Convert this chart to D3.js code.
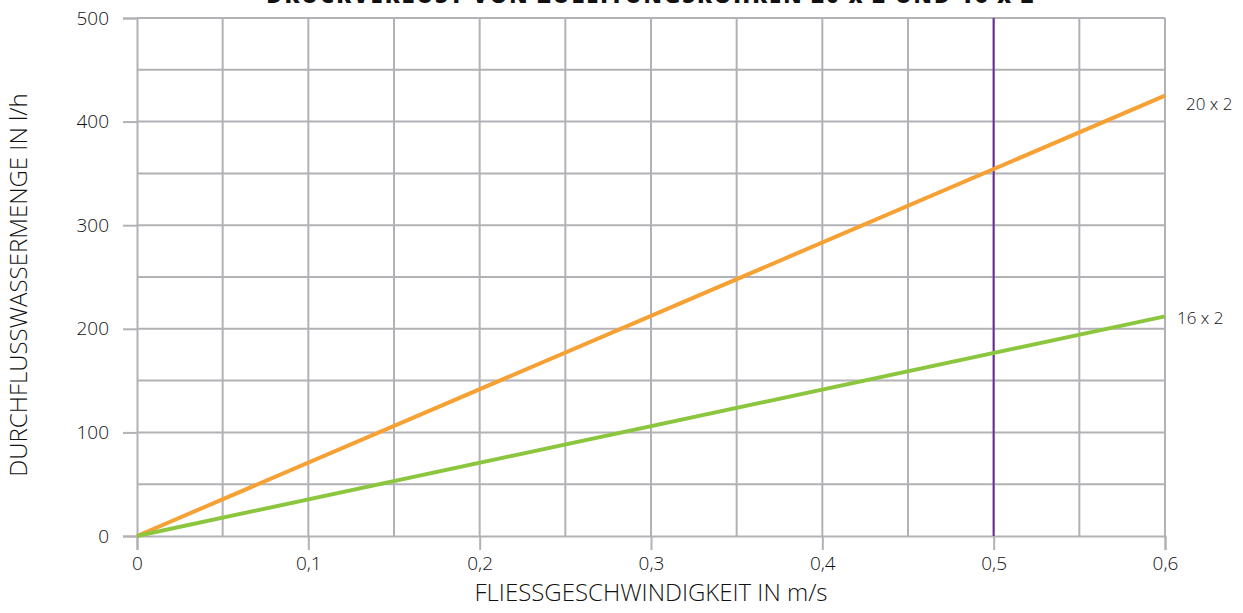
<!DOCTYPE html>
<html><head><meta charset="utf-8">
<script src="https://cdn.jsdelivr.net/npm/d3@7"></script>
<style>body{margin:0;background:#fff;} svg{display:block;} text{font-family:"Open Sans",sans-serif;fill:#111;}</style>
</head><body>
<svg id="c" width="1243" height="613"></svg>
<script>
const title = "DRUCKVERLUST VON ZULEITUNGSROHREN 20 x 2 UND 16 x 2";
const xTicks = [0, 0.1, 0.2, 0.3, 0.4, 0.5, 0.6];
const yTicks = [0, 100, 200, 300, 400, 500];
const xGrid = [0.05, 0.1, 0.15, 0.2, 0.25, 0.3, 0.35, 0.4, 0.45, 0.5, 0.55, 0.6];
const yGrid = [50, 100, 150, 200, 250, 300, 350, 400, 450, 500];
const speed = [0, 0.6];
const flow20 = [0, 425];
const flow16 = [0, 212];
const seriesNames = ["20 x 2", "16 x 2"];
const markX = 0.5;

const svg = d3.select("#c");
const x = d3.scaleLinear().domain([0, 0.6]).range([137, 1165]);
const y = d3.scaleLinear().domain([0, 500]).range([536, 18]);
const grid = "#b2b2b6";
const ff = '"Open Sans",sans-serif';

svg.append("text").attr("x", 651).attr("y", 3).attr("text-anchor", "middle")
  .attr("font-size", 22).attr("font-weight", 800).style("letter-spacing", "2px").text(title);

const g = svg.append("g");
g.selectAll(".gx").data(xGrid).join("line")
  .attr("x1", d => x(d)).attr("x2", d => x(d)).attr("y1", y(500)).attr("y2", y(0))
  .attr("stroke", grid).attr("stroke-width", 2);
g.selectAll(".gy").data(yGrid).join("line")
  .attr("x1", x(0)).attr("x2", x(0.6)).attr("y1", d => y(d)).attr("y2", d => y(d))
  .attr("stroke", grid).attr("stroke-width", 2);

const xAxis = d3.axisBottom(x).tickValues(xTicks).tickSize(14).tickPadding(7)
  .tickFormat(d => d === 0 ? "0" : d3.format(".1f")(d).replace(".", ","));
const xa = svg.append("g").attr("transform", `translate(0,${y(0)})`).call(xAxis);
xa.select(".domain").attr("stroke", grid).attr("stroke-width", 2);
xa.selectAll(".tick line").attr("stroke", grid).attr("stroke-width", 2);
xa.selectAll(".tick text").attr("font-size", 19).attr("font-family", ff).attr("fill", "#111").attr("font-weight", 300);

const yAxis = d3.axisLeft(y).tickValues(yTicks).tickSize(14).tickPadding(14);
const ya = svg.append("g").attr("transform", `translate(${x(0)},0)`).call(yAxis);
ya.select(".domain").attr("stroke", grid).attr("stroke-width", 2);
ya.selectAll(".tick line").attr("stroke", grid).attr("stroke-width", 2);
ya.selectAll(".tick text").attr("font-size", 19).attr("font-family", ff).attr("fill", "#111").attr("font-weight", 300);

svg.append("line").attr("x1", x(markX)).attr("x2", x(markX)).attr("y1", y(500)).attr("y2", y(0))
  .attr("stroke", "#6a2d9c").attr("stroke-width", 2);

const line = d3.line().x(d => x(d[0])).y(d => y(d[1]));
const s20 = speed.map((v, i) => [v, flow20[i]]);
const s16 = speed.map((v, i) => [v, flow16[i]]);
svg.append("path").datum(s20).attr("d", line).attr("fill", "none").attr("stroke", "#f7a033").attr("stroke-width", 4);
svg.append("path").datum(s16).attr("d", line).attr("fill", "none").attr("stroke", "#8cc63f").attr("stroke-width", 4);

svg.append("text").attr("x", 1186).attr("y", y(flow20[1]) + 14).attr("font-size", 17).attr("font-weight", 300).text(seriesNames[0]);
svg.append("text").attr("x", 1177).attr("y", y(flow16[1]) + 8).attr("font-size", 17).attr("font-weight", 300).text(seriesNames[1]);

svg.append("text").attr("x", 651).attr("y", 601).attr("text-anchor", "middle")
  .attr("font-size", 24).attr("font-weight", 300).text("FLIESSGESCHWINDIGKEIT IN m/s");
svg.append("text").attr("transform", "translate(27,285) rotate(-90)").attr("text-anchor", "middle")
  .attr("font-size", 24).attr("font-weight", 300).text("DURCHFLUSSWASSERMENGE IN l/h");
</script>
</body></html>
